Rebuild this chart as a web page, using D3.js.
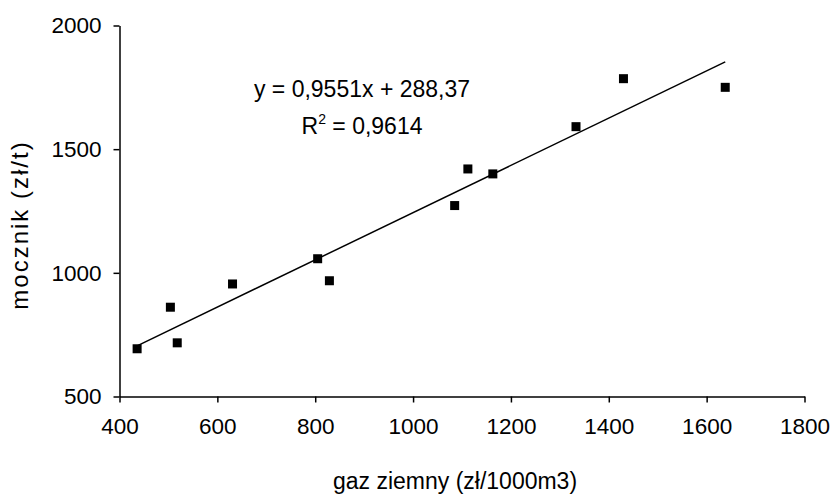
<!DOCTYPE html>
<html>
<head>
<meta charset="utf-8">
<script src="https://cdn.jsdelivr.net/npm/d3@7"></script>
<style>
  body { margin: 0; background: #fff; }
  svg { font-family: "Liberation Sans", Arial, sans-serif; }
</style>
</head>
<body>
<svg width="836" height="497"></svg>
<script>
// gas price vs urea price
const gas = [436, 504, 518, 631, 805, 829, 1085, 1112, 1163, 1333, 1430, 1638];
const urea = [693, 861, 717, 955, 1057, 968, 1272, 1420, 1400, 1591, 1785, 1750];
const xTicks = [400, 600, 800, 1000, 1200, 1400, 1600, 1800];
const yTicks = [500, 1000, 1500, 2000];
const slope = 0.9551, intercept = 288.37;

const svg = d3.select('svg');
const font = '"Liberation Sans", Arial, sans-serif';

const x = d3.scaleLinear().domain([400, 1800]).range([119.5, 804.5]);
const y = d3.scaleLinear().domain([500, 2000]).range([396.5, 25.5]);

// axes
svg.append('g')
  .attr('transform', 'translate(0,396.5)')
  .call(d3.axisBottom(x).tickValues(xTicks).tickFormat(d3.format('d')).tickSize(6).tickPadding(16).tickSizeOuter(0))
  .attr('font-family', font)
  .call(g => g.selectAll('text').style('font-size', '22.5px').attr('fill', '#000'))
  .call(g => g.selectAll('line, path').attr('stroke', '#000').attr('stroke-width', 1.5));

svg.append('g')
  .attr('transform', 'translate(119.5,0)')
  .call(d3.axisLeft(y).tickValues(yTicks).tickFormat(d3.format('d')).tickSize(6).tickPadding(12).tickSizeOuter(0))
  .attr('font-family', font)
  .call(g => g.selectAll('text').style('font-size', '22.5px').attr('fill', '#000'))
  .call(g => g.selectAll('line, path').attr('stroke', '#000').attr('stroke-width', 1.5));

// trend line
const ext = d3.extent(gas);
svg.append('path')
  .attr('d', d3.line()([ext[0], ext[1]].map(v => [x(v), y(slope * v + intercept)])))
  .attr('stroke', '#000')
  .attr('stroke-width', 1.5)
  .attr('fill', 'none');

// points
const s = 9;
svg.selectAll('rect.pt')
  .data(gas.map((g, i) => [g, urea[i]]))
  .enter().append('rect')
  .attr('class', 'pt')
  .attr('x', d => x(d[0]) - s / 2)
  .attr('y', d => y(d[1]) - s / 2)
  .attr('width', s)
  .attr('height', s)
  .attr('fill', '#000');

// equation
svg.append('text')
  .attr('x', 362).attr('y', 97)
  .attr('text-anchor', 'middle')
  .style('font-size', '23px')
  .text('y = 0,9551x + 288,37');

const r2 = svg.append('text')
  .attr('x', 362).attr('y', 134)
  .attr('text-anchor', 'middle')
  .style('font-size', '23px');
r2.append('tspan').text('R');
r2.append('tspan').attr('dy', -10).style('font-size', '14px').text('2');
r2.append('tspan').attr('dy', 10).text(' = 0,9614');

// axis titles
svg.append('text')
  .attr('x', 455).attr('y', 489)
  .attr('text-anchor', 'middle')
  .style('font-size', '23px')
  .text('gaz ziemny (zł/1000m3)');

svg.append('text')
  .attr('transform', 'translate(28,225) rotate(-90)')
  .attr('text-anchor', 'middle')
  .style('font-size', '24px')
  .style('letter-spacing', '2px')
  .text('mocznik (zł/t)');
</script>
</body>
</html>
